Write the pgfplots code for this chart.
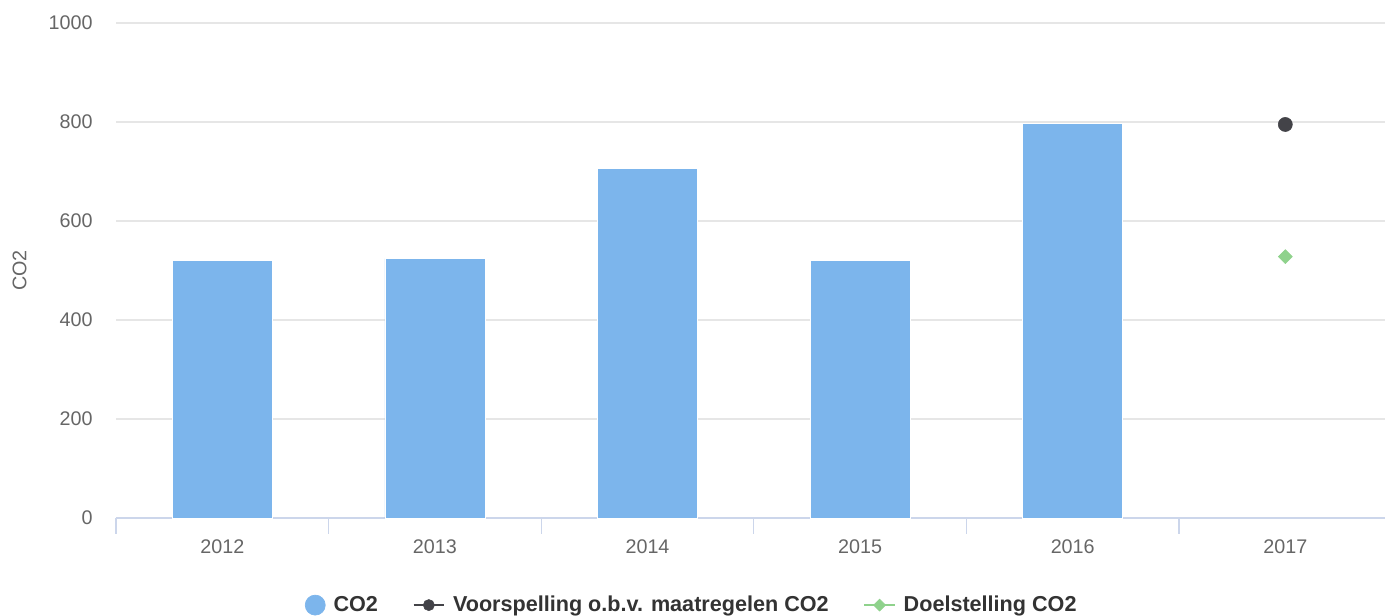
\documentclass[border=0pt]{standalone}
\usepackage{fontspec}
\setmainfont{Liberation Sans}
\usepackage{pgfplots}
\pgfplotsset{compat=1.18}
\definecolor{barblue}{HTML}{7CB5EC}
\definecolor{darkpt}{HTML}{434348}
\definecolor{greenpt}{HTML}{8FD28C}
\definecolor{gridc}{HTML}{E6E6E6}
\definecolor{axisc}{HTML}{CCD6EB}
\definecolor{labc}{HTML}{666666}
\begin{document}
\begin{tikzpicture}
\path[use as bounding box] (0pt,0pt) rectangle (1038.75pt,462pt);
\begin{axis}[
  at={(87pt,73.5pt)}, anchor=south west,
  scale only axis,
  width=956.7pt, height=371.25pt,
  xmin=-0.5, xmax=5.5,
  ymin=0, ymax=1000,
  ytick={0,200,...,1000},
  xtick={-0.5,0.5,...,5.5},
  xticklabels={2012,2013,2014,2015,2016,2017},
  x tick label as interval,
  xtick pos=lower,
  major x tick style={draw=axisc, line width=1pt},
  xtick align=outside, major tick length=12pt,
  ymajorgrids, grid style={draw=gridc, line width=1pt},
  major y tick style={draw=none},
  axis line style={draw=none},
  ticklabel style={font=\fontsize{14.8}{17}\selectfont, text=labc},
  /pgf/number format/assume math mode=true,
  /pgf/number format/1000 sep={},
  xticklabel style={yshift=-1pt},
  yticklabel style={xshift=-14pt},
  legend style={at={(0.4516,-0.176)}, anchor=center, draw=none, legend columns=-1,
    font=\bfseries\fontsize{16.2}{18}\selectfont, text=black!80,
    /tikz/every even column/.append style={column sep=24pt},
    /tikz/every odd column/.append style={column sep=4pt}},
  clip=false,
]
\draw[axisc, line width=1pt] (axis cs:-0.5,0) -- (axis cs:5.5,0);
\node[rotate=90, font=\fontsize{14.8}{17}\selectfont, text=labc] at (axis description cs:-0.0755,0.5) {CO2};
\addplot[ybar, bar width=75pt, fill=barblue, draw=white, line width=0.5pt,
  legend image code/.code={\fill[barblue] (0.3cm,0cm) circle (7.5pt);}]
  coordinates {(0,520) (1,524) (2,707) (3,520) (4,797)};
\addlegendentry{CO2}
\addplot[only marks, mark=*, mark size=5.3pt, mark options={fill=darkpt, draw=darkpt},
  legend image code/.code={\draw[darkpt, line width=1.5pt] (0cm,0cm) -- (0.8cm,0cm); \fill[darkpt] (0.4cm,0cm) circle (4.2pt);}]
  coordinates {(5,795)};
\addlegendentry{Voorspelling o.b.v. maatregelen CO2}
\addplot[only marks, mark=square*, mark size=3.7pt, mark options={fill=greenpt, draw=greenpt, rotate=45},
  legend image code/.code={\draw[greenpt, line width=1.5pt] (0cm,0cm) -- (0.8cm,0cm); \fill[greenpt] (0.4cm,0cm) +(0,4.5pt) -- +(4.5pt,0) -- +(0,-4.5pt) -- +(-4.5pt,0) -- cycle;}]
  coordinates {(5,528)};
\addlegendentry{Doelstelling CO2}
\end{axis}
\end{tikzpicture}
\end{document}
